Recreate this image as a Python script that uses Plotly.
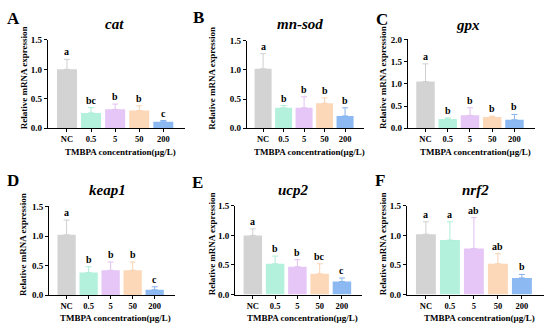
import plotly.graph_objects as go

W, H = 550, 334

categories = ["NC", "0.5", "5", "50", "200"]
genes = ["cat", "mn-sod", "gpx", "keap1", "ucp2", "nrf2"]
panel_letters = ["A", "B", "C", "D", "E", "F"]

cat_mean = [1.00, 0.26, 0.32, 0.30, 0.11]
cat_err = [0.17, 0.09, 0.09, 0.08, 0.02]
cat_sig = ["a", "bc", "b", "b", "c"]

mnsod_mean = [1.02, 0.35, 0.35, 0.43, 0.21]
mnsod_err = [0.26, 0.04, 0.19, 0.09, 0.14]
mnsod_sig = ["a", "b", "b", "b", "b"]

gpx_mean = [1.05, 0.21, 0.29, 0.25, 0.19]
gpx_err = [0.40, 0.02, 0.17, 0.02, 0.12]
gpx_sig = ["a", "b", "b", "b", "b"]

keap1_mean = [1.02, 0.38, 0.42, 0.42, 0.09]
keap1_err = [0.25, 0.10, 0.14, 0.14, 0.05]
keap1_sig = ["a", "b", "b", "b", "c"]

ucp2_mean = [1.00, 0.52, 0.47, 0.35, 0.22]
ucp2_err = [0.11, 0.13, 0.12, 0.17, 0.06]
ucp2_sig = ["a", "b", "b", "bc", "c"]

nrf2_mean = [1.02, 0.92, 0.78, 0.52, 0.28]
nrf2_err = [0.21, 0.31, 0.52, 0.17, 0.06]
nrf2_sig = ["a", "a", "ab", "ab", "b"]

means = [cat_mean, mnsod_mean, gpx_mean, keap1_mean, ucp2_mean, nrf2_mean]
errs = [cat_err, mnsod_err, gpx_err, keap1_err, ucp2_err, nrf2_err]
sigs = [cat_sig, mnsod_sig, gpx_sig, keap1_sig, ucp2_sig, nrf2_sig]
ymax = [1.5, 1.5, 2.0, 1.5, 1.5, 1.5]

bar_colors = ["#d3d3d3", "#b3f1dc", "#e6c6f6", "#fdd8b8", "#8cb9f1"]
err_colors = ["#cfcfcf", "#aeeed6", "#e2c0f2", "#f9d2b0", "#86b2ec"]

# pixel layout of each panel: x axis start/end, y at top tick, y at zero
boxes = [
    (47.7, 185.0, 36.0, 127.0),
    (246.7, 363.5, 37.0, 127.0),
    (407.7, 534.5, 35.5, 127.0),
    (49.0, 174.5, 207.7, 299.0),
    (235.0, 362.0, 207.0, 298.5),
    (406.7, 543.5, 207.0, 298.5),
]
title_pos = [(115, 20), (300, 20), (468, 21), (107, 191), (293, 191), (475, 191)]
letter_pos = [(13, 14), (198, 13), (382, 15), (13, 181), (197, 183), (380, 181)]
ytitle_x = [24, 212, 383, 23, 212, 383]
xtitle_y = [152, 152, 152, 322.5, 322.5, 322.5]

FONT = "Liberation Serif"
fig = go.Figure()
layout = dict(
    width=W, height=H, margin=dict(l=0, r=0, t=0, b=0),
    paper_bgcolor="white", plot_bgcolor="white", showlegend=False,
    barmode="overlay", bargap=0.17,
    font=dict(family=FONT, color="black", size=9, weight="bold"),
)
annotations = []

def px(x):
    return x / W

def py(y):
    return 1 - y / H

for i in range(6):
    n = i + 1
    xa = "x" if n == 1 else f"x{n}"
    ya = "y" if n == 1 else f"y{n}"
    x0, x1, ytop, y0 = boxes[i]
    for j, c in enumerate(categories):
        fig.add_trace(go.Bar(
            x=[c], y=[means[i][j]], xaxis=xa, yaxis=ya,
            marker=dict(color=bar_colors[j], line=dict(width=0)),
            error_y=dict(type="data", symmetric=False, array=[errs[i][j]],
                         arrayminus=[0], color=err_colors[j], thickness=1, width=3),
            hoverinfo="skip",
        ))
        annotations.append(dict(
            x=j, y=means[i][j] + errs[i][j], xref=xa, yref=ya,
            text=sigs[i][j], showarrow=False, yanchor="bottom", yshift=0,
            font=dict(family=FONT, size=10, color="black", weight="bold"),
        ))
    axis_common = dict(showline=True, linecolor="black", linewidth=1,
                       ticks="outside", ticklen=3, tickwidth=1, tickcolor="black",
                       showgrid=False, zeroline=False)
    layout["xaxis" if n == 1 else f"xaxis{n}"] = dict(
        domain=[px(x0), px(x1)], anchor=ya, type="category",
        categoryorder="array", categoryarray=categories,
        range=[-0.8, 4.9], ticklabelstandoff=0,
        tickfont=dict(family=FONT, size=8.5, color="black", weight="bold"),
        **axis_common)
    layout["yaxis" if n == 1 else f"yaxis{n}"] = dict(
        domain=[py(y0), py(ytop)], anchor=xa, range=[0, ymax[i]],
        dtick=0.5, tickformat=".1f",
        tickfont=dict(family=FONT, size=9, color="black", weight="bold"),
        **axis_common)
    annotations.append(dict(
        x=px(title_pos[i][0]), y=py(title_pos[i][1]), xref="paper", yref="paper",
        text=f"<i>{genes[i]}</i>", showarrow=False, xanchor="center", yanchor="middle",
        font=dict(family=FONT, size=15, color="black", weight="bold")))
    annotations.append(dict(
        x=px(letter_pos[i][0]), y=py(letter_pos[i][1]), xref="paper", yref="paper",
        text=panel_letters[i], showarrow=False, xanchor="center", yanchor="middle",
        font=dict(family=FONT, size=17, color="black", weight="bold")))
    annotations.append(dict(
        x=px(ytitle_x[i]), y=py((ytop + y0) / 2 - 6), xref="paper", yref="paper",
        text="Relative mRNA expression", textangle=-90, showarrow=False,
        xanchor="center", yanchor="middle",
        font=dict(family=FONT, size=9, color="black", weight="bold")))
    annotations.append(dict(
        x=px((x0 + x1) / 2 + 4), y=py(xtitle_y[i]), xref="paper", yref="paper",
        text="TMBPA concentration(μg/L)", showarrow=False,
        xanchor="center", yanchor="middle", borderpad=0,
        font=dict(family=FONT, size=9, color="black", weight="bold")))

layout["annotations"] = annotations
fig.update_layout(**layout)
fig.write_html("out.html", config={"displayModeBar": False},
               post_script="document.body.style.margin='0';document.body.style.padding='0';")
